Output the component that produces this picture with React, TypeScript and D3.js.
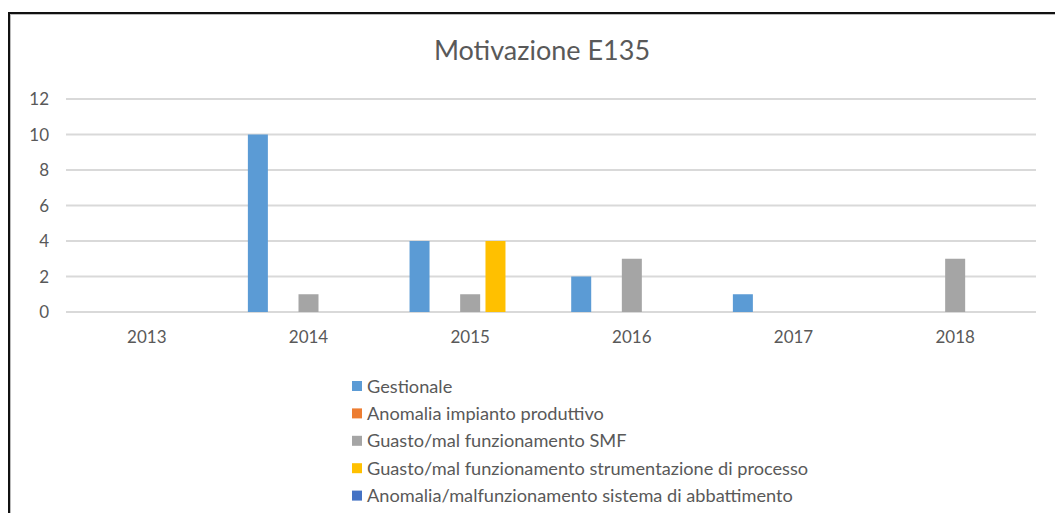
import { useEffect, useRef } from 'react';
import * as d3 from 'd3';

const anni = ['2013', '2014', '2015', '2016', '2017', '2018'];
const serie = [
  'Gestionale',
  'Anomalia impianto produttivo',
  'Guasto/mal funzionamento SMF',
  'Guasto/mal funzionamento strumentazione di processo',
  'Anomalia/malfunzionamento sistema di abbattimento',
];
const colori = ['#5B9BD5', '#ED7D31', '#A5A5A5', '#FFC000', '#4472C4'];

const gestionale = [0, 10, 4, 2, 1, 0];
const anomaliaImpianto = [0, 0, 0, 0, 0, 0];
const guastoSmf = [0, 1, 1, 3, 0, 3];
const guastoStrumentazione = [0, 0, 4, 0, 0, 0];
const anomaliaAbbattimento = [0, 0, 0, 0, 0, 0];

const yTicks = [0, 2, 4, 6, 8, 10, 12];

const valori = [gestionale, anomaliaImpianto, guastoSmf, guastoStrumentazione, anomaliaAbbattimento];

const FONT = 'Lato, "Open Sans", sans-serif';
const TEXT = '#595959';

export default function App() {
  const ref = useRef<SVGSVGElement | null>(null);

  useEffect(() => {
    const width = 1055;
    const height = 513;
    const svg = d3.select(ref.current);
    svg.selectAll('*').remove();
    svg.attr('width', width).attr('height', height);

    svg.append('rect').attr('width', width).attr('height', height).attr('fill', '#fff');

    // cornice
    svg.append('rect')
      .attr('x', 10.5).attr('y', 14.5)
      .attr('width', 1200).attr('height', 600)
      .attr('fill', 'none').attr('stroke', '#bbb').attr('stroke-width', 1);
    svg.append('rect')
      .attr('x', 9).attr('y', 13)
      .attr('width', 1200).attr('height', 600)
      .attr('fill', 'none').attr('stroke', '#111').attr('stroke-width', 2);

    // titolo
    svg.append('text')
      .attr('x', 542).attr('y', 60)
      .attr('text-anchor', 'middle')
      .attr('font-family', FONT)
      .attr('font-size', 27)
      .attr('fill', TEXT)
      .text('Motivazione E135');

    const x0 = d3.scaleBand<string>().domain(anni).range([66, 1036]).padding(0);
    const cw = x0.bandwidth();
    const x1 = d3.scaleBand<string>()
      .domain(serie)
      .range([cw * 0.125, cw * 0.875])
      .paddingInner(0.21)
      .paddingOuter(0);
    const y = d3.scaleLinear().domain([0, 12]).range([312, 99]);

    // griglia
    svg.append('g')
      .selectAll('line')
      .data(yTicks)
      .enter().append('line')
      .attr('x1', 66).attr('x2', 1036)
      .attr('y1', d => y(d)).attr('y2', d => y(d))
      .attr('stroke', '#d9d9d9')
      .attr('stroke-width', 1.8);

    svg.append('g')
      .selectAll('text')
      .data(yTicks)
      .enter().append('text')
      .attr('x', 49)
      .attr('y', d => y(d))
      .attr('dy', '0.36em')
      .attr('text-anchor', 'end')
      .attr('font-family', FONT)
      .attr('font-size', 17)
      .attr('fill', TEXT)
      .text(d => d);

    svg.append('g')
      .selectAll('text')
      .data(anni)
      .enter().append('text')
      .attr('x', d => (x0(d) as number) + cw / 2)
      .attr('y', 343)
      .attr('text-anchor', 'middle')
      .attr('font-family', FONT)
      .attr('font-size', 17)
      .attr('fill', TEXT)
      .text(d => d);

    // barre
    const barre = anni.flatMap((a, i) =>
      serie.map((s, j) => ({ anno: a, serie: s, valore: valori[j][i], colore: colori[j] }))
    ).filter(d => d.valore > 0);

    svg.append('g')
      .selectAll('rect')
      .data(barre)
      .enter().append('rect')
      .attr('x', d => (x0(d.anno) as number) + (x1(d.serie) as number))
      .attr('y', d => y(d.valore))
      .attr('width', x1.bandwidth())
      .attr('height', d => y(0) - y(d.valore))
      .attr('fill', d => d.colore);

    // legenda
    const legenda = svg.append('g')
      .selectAll('g')
      .data(serie)
      .enter().append('g')
      .attr('transform', (d, i) => `translate(352,${386 + i * 27.4})`);

    legenda.append('rect')
      .attr('x', 0).attr('y', -5)
      .attr('width', 10).attr('height', 10)
      .attr('fill', (d, i) => colori[i]);

    legenda.append('text')
      .attr('x', 15)
      .attr('dy', '0.36em')
      .attr('font-family', FONT)
      .attr('font-size', 18.2)
      .attr('fill', TEXT)
      .text(d => d);
  }, []);

  return (
    <svg ref={ref} style={{ position: 'absolute', left: 0, top: 0 }}></svg>
  );
}
